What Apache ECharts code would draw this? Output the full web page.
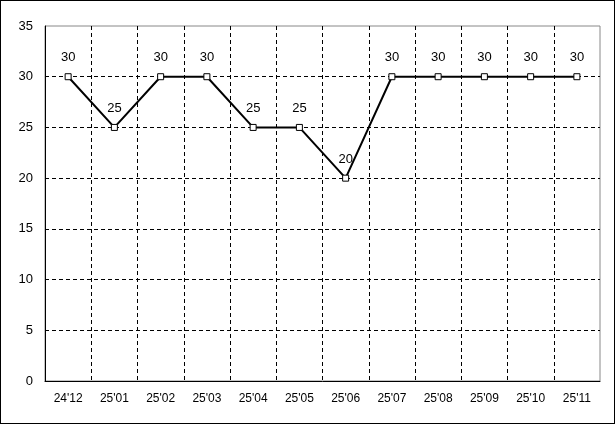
<!DOCTYPE html>
<html><head><meta charset="utf-8">
<script src="https://cdn.jsdelivr.net/npm/echarts@6/dist/echarts.min.js"></script>
<style>html,body{margin:0;padding:0;background:#fff}#wrap{position:relative;width:615px;height:424px}#c{width:615px;height:424px}#frame{position:absolute;left:0;top:0;width:613px;height:422px;border:1px solid #000;pointer-events:none}</style>
</head><body><div id="wrap"><div id="c"></div><div id="frame"></div></div>
<script>
const categories = ["24'12","25'01","25'02","25'03","25'04","25'05","25'06","25'07","25'08","25'09","25'10","25'11"];
const values = [30,25,30,30,25,25,20,30,30,30,30,30];
const yTicks = {min:0,max:35,interval:5};

const font = "'Liberation Sans', 'DejaVu Sans', sans-serif";
const ySplitColors = ['#000','#000','#000','#000','#000','#000','#000','rgba(0,0,0,0)'];
const xSplitColors = [];
for (let i = 0; i < categories.length; i++) xSplitColors.push('#000');
xSplitColors.push('rgba(0,0,0,0)');

const chart = echarts.init(document.getElementById('c'), null, {renderer:'canvas'});
chart.setOption({
  animation:false,
  backgroundColor:'#fff',
  grid:{left:45,top:26,right:15,bottom:43,show:true,borderColor:'#888',borderWidth:1,backgroundColor:'#fff'},
  xAxis:{type:'category',data:categories,boundaryGap:true,
    axisLine:{lineStyle:{color:'#000',width:1}},axisTick:{show:false},
    axisLabel:{color:'#000',fontFamily:font,fontSize:12,margin:12},
    splitLine:{show:true,lineStyle:{color:xSplitColors,type:[4,3],width:1}}},
  yAxis:{type:'value',min:yTicks.min,max:yTicks.max,interval:yTicks.interval,
    axisLine:{show:true,lineStyle:{color:'#000',width:1}},axisTick:{show:false},
    axisLabel:{color:'#000',fontFamily:font,fontSize:13,margin:12},
    splitLine:{show:true,lineStyle:{color:ySplitColors,type:[4,3],width:1}}},
  series:[{type:'line',data:values,symbol:'rect',symbolSize:6,
    lineStyle:{color:'#000',width:2},
    itemStyle:{color:'#fff',borderColor:'#000',borderWidth:1},
    label:{show:true,position:'top',distance:9,color:'#000',fontFamily:font,fontSize:13}}]
});
</script></body></html>
